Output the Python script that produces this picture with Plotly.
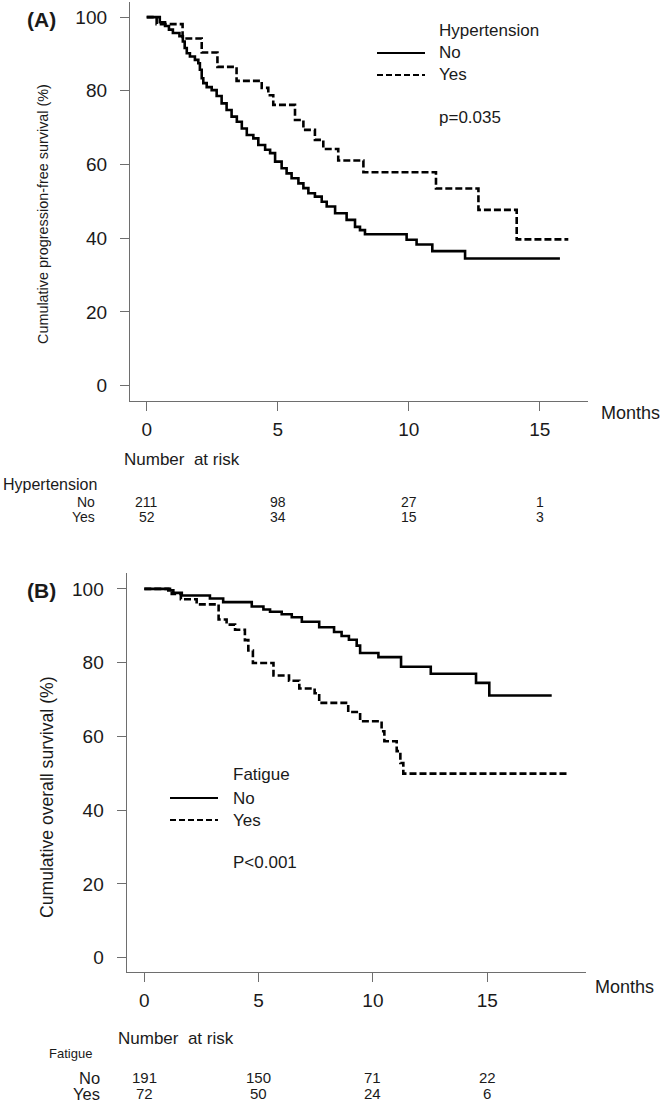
import plotly.graph_objects as go

# ---------------- data ----------------
# Panel A: progression-free survival by hypertension (Kaplan-Meier steps)
a_no_t = [0, 0.50, 0.70, 0.85, 1.00, 1.25, 1.38, 1.45, 1.53, 1.65, 1.84, 1.97, 2.03, 2.10, 2.16,
          2.29, 2.48, 2.67, 2.86, 3.05, 3.24, 3.44, 3.63, 3.82, 4.07, 4.26, 4.52, 4.71, 4.90,
          5.15, 5.34, 5.53, 5.79, 5.98, 6.17, 6.42, 6.68, 6.87, 7.19, 7.63, 7.95, 8.14, 8.33,
          9.92, 10.30, 10.90, 12.15, 15.77]
a_no_s = [100, 98.6, 97.6, 96.6, 95.7, 94.8, 93.4, 91.6, 90.2, 89.3, 88.4, 87.5, 85.7, 83.4, 82.1,
          81.0, 80.2, 78.6, 76.6, 74.8, 73.0, 71.6, 69.8, 68.0, 67.1, 65.3, 64.0, 63.1, 60.8,
          59.0, 57.6, 56.3, 54.9, 53.6, 52.2, 51.3, 49.9, 48.6, 46.8, 45.0, 43.1, 42.2, 41.1,
          39.6, 38.3, 36.5, 34.5, 34.5]
a_yes_t = [0, 0.38, 1.37, 2.10, 2.70, 3.43, 4.39, 4.64, 4.83, 5.66, 5.98, 6.42, 6.74, 7.31,
           8.27, 11.04, 12.66, 14.12, 16.09]
a_yes_s = [100, 98.1, 94.2, 90.4, 86.5, 82.7, 80.8, 78.8, 76.2, 72.1, 69.4, 66.7, 64.2, 61.1,
           57.9, 53.5, 47.7, 39.7, 39.7]

# Panel B: overall survival by fatigue
b_no_t = [0, 1.05, 1.27, 1.64, 2.87, 3.45, 4.70, 5.21, 5.50, 6.01, 6.45, 6.89, 7.65, 8.30,
          8.63, 8.95, 9.29, 9.44, 10.24, 11.23, 12.53, 14.51, 15.09, 17.82]
b_no_s = [100, 99.6, 98.9, 98.2, 97.4, 96.4, 95.2, 94.4, 93.8, 93.1, 92.3, 91.1, 89.6, 88.3,
          87.2, 86.2, 84.6, 82.6, 81.5, 78.9, 77.0, 74.5, 71.1, 71.1]
b_yes_t = [0, 1.20, 1.60, 2.29, 3.25, 3.60, 3.97, 4.40, 4.55, 4.75, 5.65, 6.33, 6.78, 7.45,
           7.65, 8.92, 9.44, 10.38, 10.50, 11.04, 11.20, 11.33, 18.50]
b_yes_s = [100, 98.6, 97.2, 95.8, 91.7, 90.3, 88.9, 86.1, 83.3, 79.9, 76.5, 75.1, 73.0, 71.7,
           69.1, 66.6, 64.1, 61.4, 58.7, 56.0, 52.8, 49.9, 49.9]

x_ticks = [0, 5, 10, 15]
y_ticks = [0, 20, 40, 60, 80, 100]
risk_times = [0, 5, 10, 15]
a_risk_no = [211, 98, 27, 1]
a_risk_yes = [52, 34, 15, 3]
b_risk_no = [191, 150, 71, 22]
b_risk_yes = [72, 50, 24, 6]

# ---------------- layout helpers ----------------
W, H = 661, 1102
FONT = "Liberation Sans, Arial, sans-serif"
TXT = "#1a1a1a"
AX = "#6e6e6e"
DASH = "7px,3px"


def px(x):
    return x / W


def py(y):
    return 1 - y / H


fig = go.Figure()
fig.add_trace(go.Scatter(x=a_no_t, y=a_no_s, mode="lines", line=dict(shape="hv", color="black", width=2.6),
                         name="No", xaxis="x", yaxis="y", showlegend=False))
fig.add_trace(go.Scatter(x=a_yes_t, y=a_yes_s, mode="lines", line=dict(shape="hv", color="black", width=2.6, dash=DASH),
                         name="Yes", xaxis="x", yaxis="y", showlegend=False))
fig.add_trace(go.Scatter(x=b_no_t, y=b_no_s, mode="lines", line=dict(shape="hv", color="black", width=2.6),
                         name="No", xaxis="x2", yaxis="y2", showlegend=False))
fig.add_trace(go.Scatter(x=b_yes_t, y=b_yes_s, mode="lines", line=dict(shape="hv", color="black", width=2.6, dash=DASH),
                         name="Yes", xaxis="x2", yaxis="y2", showlegend=False))

axis_common = dict(showline=True, linecolor=AX, linewidth=1.3, ticks="outside", ticklen=9,
                   tickcolor=AX, tickwidth=1.3, showgrid=False, zeroline=False,
                   tickfont=dict(family=FONT, size=19, color=TXT), fixedrange=True)

fig.update_layout(
    width=W, height=H, margin=dict(l=0, r=0, t=0, b=0),
    paper_bgcolor="white", plot_bgcolor="white", showlegend=False,
    font=dict(family=FONT, color=TXT),
    xaxis=dict(axis_common, domain=[px(130), px(587.7)], range=[-0.637, 16.83], anchor="y",
               tickvals=x_ticks, ticklabelstandoff=2),
    yaxis=dict(axis_common, domain=[py(400.7), py(2)], range=[-4.07, 104.1], anchor="x",
               tickvals=y_ticks, ticklabelstandoff=9),
    xaxis2=dict(axis_common, domain=[px(126.7), px(586)], range=[-0.77, 19.32], anchor="y2",
                tickvals=x_ticks, ticklabelstandoff=2),
    yaxis2=dict(axis_common, domain=[py(972.3), py(573)], range=[-3.96, 104.3], anchor="x2",
                tickvals=y_ticks, ticklabelstandoff=9),
)

ann = []


def text(x, y, s, size, xanchor="left", bold=False, angle=0, xref="paper"):
    ann.append(dict(x=x, y=py(y), xref=xref, yref="paper", text=("<b>%s</b>" % s) if bold else s,
                    showarrow=False, xanchor=xanchor, yanchor="middle", textangle=angle,
                    font=dict(family=FONT, size=size, color=TXT)))


# Panel labels and axis titles
text(px(25), 20, "(A)", 21, bold=True)
text(px(25), 590, "(B)", 21, bold=True)
text(px(43), 214, "Cumulative progression-free survival (%)", 14.4, xanchor="center", angle=-90)
text(px(47), 797, "Cumulative overall survival (%)", 17.6, xanchor="center", angle=-90)
text(px(599), 413, "Months", 18)
text(px(593), 987, "Months", 18)

# Legend A
text(px(437), 30, "Hypertension", 17)
text(px(437), 53, "No", 17)
text(px(437), 75, "Yes", 17)
text(px(437), 117, "p=0.035", 17)
# Legend B
text(px(231), 774, "Fatigue", 17)
text(px(231), 798, "No", 17)
text(px(231), 820, "Yes", 17)
text(px(231), 862, "P<0.001", 17)

shapes = [
    dict(type="line", xref="paper", yref="paper", x0=px(377), x1=px(425), y0=py(53), y1=py(53),
         line=dict(color="black", width=2.2)),
    dict(type="line", xref="paper", yref="paper", x0=px(377), x1=px(425), y0=py(75), y1=py(75),
         line=dict(color="black", width=2.2, dash="6px,3px")),
    dict(type="line", xref="paper", yref="paper", x0=px(170), x1=px(218), y0=py(798), y1=py(798),
         line=dict(color="black", width=2.2)),
    dict(type="line", xref="paper", yref="paper", x0=px(170), x1=px(218), y0=py(820), y1=py(820),
         line=dict(color="black", width=2.2, dash="6px,3px")),
]

# Risk table A
text(px(122), 460, "Number\u00a0 at risk", 17)
text(px(1), 484, "Hypertension", 16)
text(px(97), 502, "No", 14, xanchor="right")
text(px(97), 517, "Yes", 14, xanchor="right")
for t, n1, n2 in zip(risk_times, a_risk_no, a_risk_yes):
    text(t, 502, str(n1), 14, xanchor="center", xref="x")
    text(t, 517, str(n2), 14, xanchor="center", xref="x")

# Risk table B
text(px(116), 1038, "Number\u00a0 at risk", 17)
text(px(47), 1053, "Fatigue", 13)
text(px(102), 1078, "No", 16.5, xanchor="right")
text(px(102), 1094, "Yes", 16.5, xanchor="right")
for t, n1, n2 in zip(risk_times, b_risk_no, b_risk_yes):
    text(t, 1077, str(n1), 15, xanchor="center", xref="x2")
    text(t, 1093, str(n2), 15, xanchor="center", xref="x2")

fig.update_layout(annotations=ann, shapes=shapes)
fig.write_html(
    "out.html",
    config={"displayModeBar": False, "staticPlot": False},
    post_script="document.body.style.margin='0';document.body.style.padding='0';"
                "document.documentElement.style.margin='0';document.body.style.overflow='hidden';",
)
